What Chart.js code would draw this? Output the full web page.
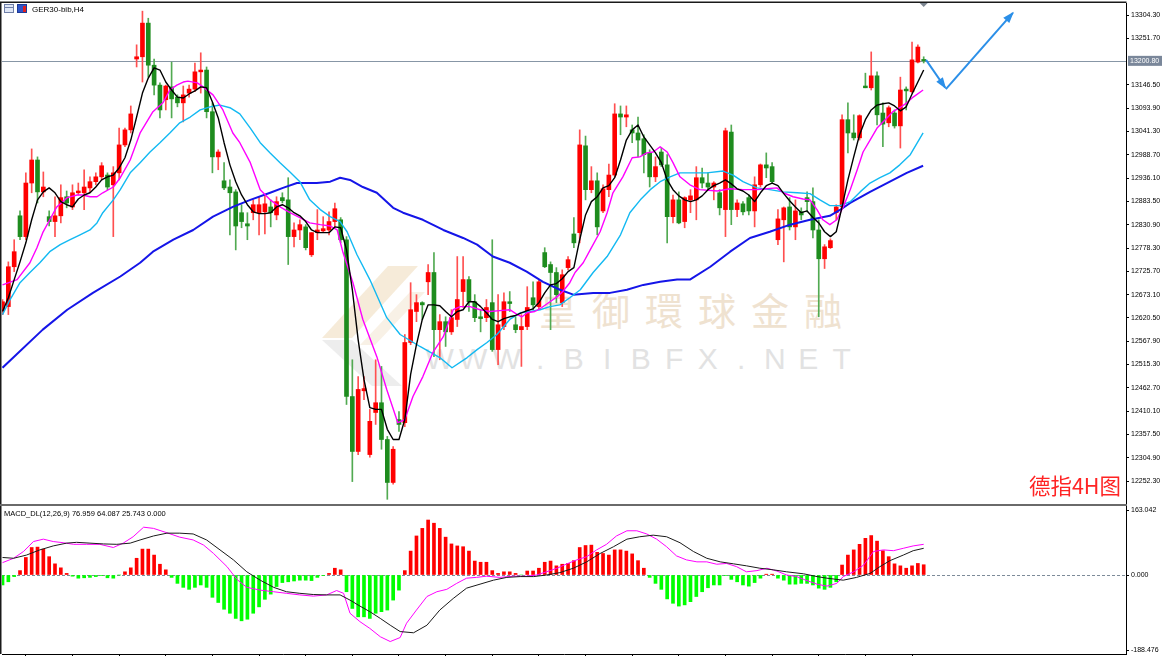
<!DOCTYPE html>
<html><head><meta charset="utf-8">
<script src="https://cdn.jsdelivr.net/npm/chart.js@4.4.1/dist/chart.umd.min.js"></script>
<style>
html,body{margin:0;padding:0;background:#fff;width:1170px;height:656px;overflow:hidden;position:relative}
canvas{position:absolute;left:0}
#c1{top:0;z-index:1}
#c2{top:505px;z-index:1}
.t{position:absolute;white-space:nowrap;z-index:2}
.wm{position:absolute;white-space:nowrap;z-index:0}
.www{position:absolute;left:423px;top:344px;display:flex;z-index:0;font:30px/30px 'Liberation Sans',Arial,sans-serif;color:#e2e2e2}
.www span{display:block;width:33.5px;text-align:center}
</style></head><body>
<div class="wm" style="left:539px;top:290px;font:38px/38px 'Noto Sans CJK TC','Noto Sans CJK SC',sans-serif;color:#efe2d0;letter-spacing:15px">皇御環球金融</div>
<div class="www"><span>W</span><span>W</span><span>W</span><span>.</span><span>B</span><span>I</span><span>B</span><span>F</span><span>X</span><span>.</span><span>N</span><span>E</span><span>T</span></div>
<canvas id="c1" width="1170" height="506"></canvas>
<canvas id="c2" width="1170" height="151"></canvas>
<div class="t" style="left:4px;top:4px;width:10px;height:9px;border:1px solid #6f7fa8;background:#dfe6f5;box-sizing:border-box"></div>
<div class="t" style="left:5px;top:7px;width:8px;height:1px;background:#6f7fa8"></div>
<div class="t" style="left:17px;top:4px;width:10px;height:9px;background:#2f55c8;box-sizing:border-box;border:1px solid #1d3a96"></div>
<div class="t" style="left:23px;top:6px;width:3px;height:6px;background:#e02020"></div>
<div class="t" style="left:32px;top:5px;font:8px/9px 'Liberation Sans',Arial,sans-serif;color:#000">GER30-bib,H4</div>
<div class="t" style="left:4px;top:509px;font:7.5px/9px 'Liberation Sans',Arial,sans-serif;color:#000">MACD_DL(12,26,9) 76.959 64.087 25.743 0.000</div>
<div class="t" style="right:49px;top:474px;font:21.5px/21.5px 'Noto Sans CJK SC',sans-serif;color:#ff2424">德指4H图</div>
<script>
// ---------- DATA ----------
const openPrices = [12637,12646,12736,12851,12804,12925,12977,12905,12849,12838,
12851,12894,12871,12903,12903,12914,12928,12939,12943,12921,
12948,13011,13045,13205,13210,13286,13191,13146,13113,13142,
13119,13106,13128,13137,13176,13180,13086,12984,12930,12916,
12905,12858,12833,12858,12858,12860,12871,12853,12892,12887,
12804,12819,12826,12763,12813,12817,12819,12838,12842,12797,
12443,12319,12456,12312,12407,12429,12346,12249,12391,12384,
12565,12635,12655,12702,12723,12594,12612,12589,12617,12680,
12707,12657,12623,12621,12655,12549,12601,12657,12605,12594,
12601,12666,12646,12768,12741,12723,12655,12734,12810,12813,
13009,12910,12930,12862,12910,12943,13081,13074,13045,13038,
13025,12993,12939,12995,12966,12849,12887,12838,12887,12887,
12937,12925,12916,12903,12865,13040,12865,12878,12892,12862,
12921,12966,12962,12797,12842,12871,12826,12860,12892,12883,
12819,12754,12779,12858,12871,13068,13038,13027,13144,13140,
13167,13083,13061,13083,13054,13137,13131,13198,13204];
const highPrices = [12662,12747,12797,12862,12948,13002,12984,12950,12862,12894,
12921,12907,12921,12925,12955,12939,12948,12971,12948,12962,
13049,13049,13099,13237,13313,13297,13205,13151,13146,13198,
13124,13144,13146,13196,13219,13187,13106,13000,12971,12932,
12910,12876,12858,12887,12894,12896,12887,12894,12903,12937,
12835,12842,12831,12813,12865,12849,12860,12880,12847,12804,
12526,12488,12488,12414,12526,12511,12353,12330,12409,12583,
12700,12673,12657,12741,12768,12628,12623,12639,12759,12759,
12714,12673,12639,12662,12797,12673,12677,12680,12623,12628,
12691,12702,12707,12779,12747,12734,12729,12759,12847,13045,
13031,12962,12948,12921,12968,13104,13099,13099,13056,13074,
13034,13000,12984,13004,12989,12898,12905,12894,12910,12962,
12959,12948,12928,12910,13049,13056,12887,12883,12898,12939,
12968,12993,12971,12865,12871,12892,12887,12869,12905,12914,
12842,12786,12799,12876,13079,13106,13079,13079,13173,13221,
13176,13106,13099,13090,13164,13142,13243,13237,13210];
const lowPrices = [12628,12628,12725,12797,12797,12903,12880,12894,12828,12804,
12835,12869,12865,12898,12865,12903,12921,12932,12910,12804,
12932,13007,13038,13187,13153,13164,13124,13072,13090,13072,
13097,13063,13119,13131,13128,13072,12948,12955,12910,12808,
12774,12824,12797,12842,12808,12810,12826,12842,12880,12741,
12781,12797,12774,12759,12797,12813,12808,12826,12790,12425,
12251,12312,12436,12306,12380,12324,12211,12245,12364,12375,
12560,12612,12617,12673,12533,12526,12556,12583,12601,12644,
12635,12612,12589,12612,12545,12515,12594,12635,12587,12511,
12594,12639,12639,12734,12594,12655,12646,12729,12779,12790,
12887,12903,12808,12858,12894,12939,13034,13052,13016,12984,
12948,12916,12928,12962,12790,12835,12833,12824,12858,12842,
12914,12910,12887,12853,12804,12831,12849,12853,12853,12826,
12916,12937,12925,12786,12747,12819,12797,12842,12860,12801,
12623,12732,12777,12842,12869,12993,13022,13022,13140,13135,
13056,13007,13052,13049,13004,13090,13128,13196,13196];
const closePrices = [12657,12736,12770,12804,12925,12977,12905,12916,12838,12851,
12892,12880,12903,12907,12916,12928,12939,12964,12916,12948,
13011,13045,13081,13210,13286,13191,13146,13090,13144,13115,
13106,13124,13137,13176,13180,13086,12984,12995,12914,12903,
12828,12838,12828,12876,12876,12878,12858,12883,12885,12804,
12819,12831,12779,12813,12819,12822,12838,12867,12797,12443,
12319,12459,12461,12387,12429,12346,12249,12324,12380,12565,
12639,12655,12650,12723,12594,12612,12589,12621,12662,12707,
12657,12621,12619,12644,12549,12605,12657,12653,12594,12601,
12644,12650,12702,12736,12723,12673,12718,12752,12790,13011,
12910,12930,12826,12912,12943,13081,13074,13079,13038,13022,
12989,12939,12962,12966,12849,12887,12835,12892,12896,12937,
12925,12916,12925,12869,13043,12865,12880,12860,12862,12921,
12966,12959,12928,12844,12869,12826,12862,12853,12883,12819,
12754,12781,12795,12871,13068,13038,13027,13077,13140,13167,
13079,13058,13095,13054,13135,13133,13203,13232,13200.8];

// fast moving average (black), one value per candle
const maFast = [12635,12666,12707,12747,12790,12842,12887,12905,12914,12903,
12883,12876,12871,12889,12898,12903,12916,12932,12939,12943,
12959,12982,13022,13074,13128,13162,13185,13180,13153,13135,
13119,13117,13126,13133,13142,13140,13108,13072,13016,12966,
12928,12898,12876,12860,12856,12856,12858,12871,12876,12869,
12858,12851,12838,12819,12813,12813,12813,12826,12824,12774,
12684,12571,12481,12418,12414,12414,12369,12346,12346,12391,
12493,12560,12617,12650,12650,12648,12635,12623,12635,12639,
12657,12657,12646,12632,12617,12612,12619,12623,12626,12632,
12637,12641,12655,12677,12695,12698,12709,12725,12734,12797,
12853,12883,12894,12914,12919,12937,12977,13022,13045,13056,
13029,13011,12993,12971,12932,12910,12896,12887,12883,12887,
12896,12910,12919,12925,12932,12923,12912,12907,12898,12883,
12903,12919,12925,12919,12901,12885,12871,12858,12862,12847,
12835,12815,12804,12815,12871,12932,12984,13034,13068,13090,
13101,13104,13106,13099,13088,13097,13126,13153,13180];

// [candle position, price] samples of the other averages
const maMidPts = [[0,12695],[2.5,12707],[4.7,12745],[5.9,12779],[6.9,12813],[8.1,12842],[9.3,12871],[11.1,12892],[12.8,12898],[13.8,12898],[15.0,12894],[16.2,12894],[17.2,12903],[19.0,12916],[20.2,12937],[21.9,12977],[23.6,13038],[25.8,13086],[27.5,13106],[28.7,13135],[29.9,13146],[31.0,13153],[31.8,13155],[33.4,13151],[34.4,13142],[36.1,13124],[37.8,13090],[39.5,13038],[40.7,13016],[42.5,12971],[44.2,12910],[45.9,12887],[47.6,12871],[49.3,12858],[51.0,12847],[52.7,12835],[54.5,12831],[56.2,12828],[57.4,12819],[58.4,12768],[60.1,12700],[61.8,12617],[64.2,12533],[65.9,12459],[67.8,12384],[69.0,12391],[70.4,12443],[72.1,12488],[73.8,12542],[75.6,12578],[77.3,12639],[78.5,12646],[80.2,12646],[81.9,12639],[83.6,12635],[85.3,12637],[87.0,12639],[88.3,12628],[89.1,12623],[90.0,12632],[91.3,12635],[92.5,12644],[93.9,12657],[95.1,12668],[96.1,12680],[97.3,12700],[98.2,12723],[99.6,12745],[100.8,12774],[102.5,12815],[103.7,12858],[104.7,12903],[106.4,12939],[108.0,12982],[109.3,12984],[110.5,12993],[111.6,12995],[112.8,13007],[114.0,12995],[115.0,12971],[116.2,12939],[117.9,12921],[119.6,12910],[122.6,12907],[124.8,12912],[127.0,12910],[129.4,12910],[131.1,12912],[132.8,12914],[133.9,12903],[135.6,12894],[137.3,12889],[138.5,12887],[139.7,12865],[140.7,12842],[141.9,12831],[143.1,12842],[144.2,12871],[145.4,12910],[146.6,12955],[147.6,12995],[148.8,13022],[150.0,13049],[151.7,13072],[152.7,13086],[153.9,13095],[155.1,13106],[156.2,13119],[157.9,13135]];
const maSlowPts = [[0,12628],[1.3,12662],[3.0,12700],[4.7,12723],[6.4,12745],[8.1,12770],[9.9,12786],[11.6,12797],[13.3,12808],[15.0,12819],[16.2,12835],[17.2,12858],[19.0,12887],[20.2,12910],[21.9,12948],[23.6,12971],[25.3,12995],[27.0,13016],[28.7,13038],[30.4,13061],[32.2,13074],[33.9,13090],[35.6,13097],[37.3,13101],[39.0,13095],[40.7,13081],[42.5,13049],[44.2,13016],[45.9,12993],[47.6,12971],[49.3,12950],[51.0,12928],[52.7,12887],[54.5,12865],[56.2,12849],[57.9,12838],[59.1,12815],[60.8,12763],[63.0,12707],[65.9,12621],[68.2,12583],[71.6,12556],[75.0,12531],[77.1,12508],[79.7,12531],[81.4,12549],[83.1,12565],[84.8,12583],[87.0,12617],[88.8,12632],[90.5,12635],[92.2,12639],[93.9,12646],[95.6,12650],[97.3,12666],[99.1,12684],[101.3,12723],[103.7,12759],[106.0,12808],[107.6,12858],[109.4,12887],[111.1,12910],[112.8,12928],[114.5,12939],[116.2,12948],[117.9,12948],[120.8,12948],[123.6,12952],[125.3,12943],[127.0,12928],[129.4,12914],[131.6,12910],[133.9,12905],[136.3,12903],[138.5,12901],[140.2,12887],[141.9,12874],[143.7,12874],[145.4,12883],[147.1,12905],[148.8,12925],[150.5,12937],[152.2,12948],[153.9,12966],[155.7,12989],[157.9,13038]];
const maLongPts = [[0,12508],[6.9,12594],[11.1,12639],[15.5,12677],[20.2,12714],[23.6,12745],[25.8,12770],[29.3,12797],[32.7,12819],[36.1,12849],[39.5,12871],[42.5,12887],[45.9,12903],[48.1,12914],[50.5,12925],[53.9,12925],[56.2,12928],[57.9,12937],[59.6,12932],[61.8,12916],[64.2,12903],[67.0,12869],[68.7,12858],[72.1,12842],[75.6,12819],[79.0,12801],[81.4,12786],[84.1,12759],[87.0,12745],[89.9,12725],[92.7,12702],[95.6,12684],[97.9,12673],[101.3,12677],[104.2,12677],[107.1,12684],[109.9,12695],[112.8,12702],[115.7,12707],[117.9,12707],[121.4,12736],[124.8,12770],[128.2,12801],[131.6,12815],[135.1,12831],[138.5,12842],[141.9,12851],[143.7,12865],[145.4,12880],[148.8,12905],[152.2,12928],[155.1,12948],[157.9,12964]];

// projected path arrows [candle position, price]
const arrowDownPts = [[158.4,13203],[161.7,13140]];
const arrowUpPts = [[161.8,13137],[173.3,13309]];

// MACD pane
const macdHist = [-25,-17,-4,11,44,69,70,65,46,28,
18,4,-3,-8,-7,-6,-4,-1,-7,-8,
0,8,18,42,65,65,50,27,13,-6,
-21,-31,-36,-31,-25,-31,-56,-69,-86,-96,
-109,-115,-111,-96,-80,-61,-48,-29,-19,-17,
-15,-13,-13,-14,-6,-1,4,17,13,-42,
-84,-105,-105,-109,-96,-92,-88,-63,-38,11,
60,98,117,138,130,117,95,78,73,71,
60,35,32,32,11,4,8,8,4,0,
10,10,17,32,35,23,27,29,36,69,
74,75,57,54,50,63,63,60,53,36,
17,-6,-21,-36,-60,-71,-78,-75,-67,-54,
-42,-32,-25,-25,-1,-11,-17,-25,-28,-19,
-8,2,2,-8,-13,-23,-23,-21,-21,-25,
-33,-36,-31,-17,25,50,63,77,92,99,
85,61,46,28,23,17,23,29,25.743];
const macdMainPts = [[0,31],[1.9,42],[3.6,59],[5.3,84],[7.0,90],[8.7,84],[10.4,81],[12.2,77],[14.4,77],[16.7,77],[19.0,69],[20.7,80],[22.4,96],[24.2,120],[25.9,117],[28.2,106],[30.4,95],[32.7,88],[34.5,75],[36.2,54],[38.5,21],[40.2,-11],[41.9,-31],[44.2,-38],[46.5,-42],[48.7,-46],[51.0,-50],[53.3,-53],[55.6,-50],[57.3,-39],[58.5,-46],[59.6,-96],[61.3,-117],[63.0,-134],[64.8,-155],[66.5,-167],[68.2,-157],[69.3,-121],[71.0,-88],[72.8,-54],[74.5,-42],[76.2,-36],[77.9,-21],[79.6,-8],[81.3,-6],[83.0,-3],[85.3,-6],[87.6,-3],[89.9,-3],[91.6,0],[93.3,8],[95.1,17],[96.8,28],[98.5,38],[100.2,46],[101.9,63],[103.6,77],[105.3,98],[107.1,111],[108.8,111],[110.5,103],[112.2,90],[113.9,71],[115.6,48],[117.3,38],[119.1,33],[120.8,33],[122.5,27],[124.2,29],[125.9,21],[127.6,8],[129.4,11],[131.1,17],[132.8,10],[134.5,0],[136.2,-4],[137.4,-11],[139.7,-23],[141.4,-28],[143.1,-21],[144.2,-4],[146.0,8],[147.7,25],[149.4,59],[151.1,63],[152.8,61],[154.5,67],[156.2,73],[158,77]];
const macdSignalPts = [[0,44],[1.9,42],[4.1,50],[6.4,63],[8.7,73],[11.0,80],[12.7,82],[15.0,80],[17.3,78],[19.6,77],[21.9,80],[23.6,88],[25.9,98],[28.2,105],[30.4,105],[32.7,103],[35.0,88],[37.3,63],[39.6,38],[41.9,8],[44.2,-13],[46.5,-31],[48.7,-42],[51.0,-46],[53.3,-49],[55.6,-50],[57.9,-50],[59.6,-63],[61.3,-78],[63.0,-92],[64.8,-109],[66.5,-126],[68.2,-142],[70.5,-145],[72.8,-126],[75.0,-88],[77.3,-59],[79.6,-33],[81.9,-23],[84.2,-13],[86.5,-6],[88.8,-4],[91.1,-4],[93.3,0],[95.6,6],[97.9,17],[100.2,33],[102.5,54],[104.8,71],[107.1,90],[109.3,96],[111.6,100],[113.9,96],[116.2,81],[118.5,59],[120.8,42],[123.1,33],[125.4,28],[127.6,23],[129.9,17],[132.2,13],[134.5,8],[137.4,3],[139.7,-4],[141.4,-8],[144.2,-13],[146.5,-6],[148.8,4],[150.5,21],[152.2,36],[154.5,50],[156.2,61],[158,67]];

// axis tick labels
const priceTicks = [13304.3,13251.7,13146.5,13093.9,13041.3,12988.7,12936.1,12883.5,12830.9,12778.3,12725.7,12673.1,12620.5,12567.9,12515.3,12462.7,12410.1,12357.5,12304.9,12252.3];
const macdTicks = [163.042, 0, -188.476];
const timeTicks = [8,16,24,32,40,48,56,64,72,80,88,96,104,112,120,128,136,144,152];

// ---------- CHARTS ----------
Chart.defaults.font.family = "'Liberation Sans', Arial, sans-serif";
Chart.defaults.animation = false;
const N = closePrices.length;
const barIdx = closePrices.map((_, i) => i);
const isUp = barIdx.map(i => closePrices[i] > openPrices[i]);
const toXY = a => a.map(p => ({x: p[0], y: p[1]}));
const X_MIN = -0.09, X_MAX = 192.7;
const Y_MAX = 13331.4, Y_MIN = 12200.4;
const M_MAX = 173.19, M_MIN = -198.29;
const ARROW = '#2b8fe8';
const axisFont = {family: "'Liberation Sans', Arial, sans-serif", size: 7};

function head(ctx, p1, p2, color) {
  const a = Math.atan2(p2.y - p1.y, p2.x - p1.x), L = 10, W = 4;
  ctx.fillStyle = color;
  ctx.beginPath();
  ctx.moveTo(p2.x + 1.5 * Math.cos(a), p2.y + 1.5 * Math.sin(a));
  ctx.lineTo(p2.x - L * Math.cos(a) + W * Math.sin(a), p2.y - L * Math.sin(a) - W * Math.cos(a));
  ctx.lineTo(p2.x - L * Math.cos(a) - W * Math.sin(a), p2.y - L * Math.sin(a) + W * Math.cos(a));
  ctx.closePath(); ctx.fill();
}

const mainPlugin = {
  id: 'mainDecor',
  beforeDatasetsDraw(chart) {
    const {ctx, chartArea: a, scales: {y}} = chart;
    ctx.save();
    ctx.fillStyle = 'rgba(238,218,186,0.55)';
    ctx.beginPath(); ctx.moveTo(388,266); ctx.lineTo(418,266); ctx.lineTo(352,338); ctx.lineTo(322,338); ctx.closePath(); ctx.fill();
    ctx.fillStyle = 'rgba(240,224,200,0.45)';
    ctx.beginPath(); ctx.moveTo(410,292); ctx.lineTo(425,292); ctx.lineTo(375,345); ctx.lineTo(360,345); ctx.closePath(); ctx.fill();
    ctx.fillStyle = 'rgba(222,222,222,0.55)';
    ctx.beginPath(); ctx.moveTo(322,340); ctx.lineTo(352,340); ctx.lineTo(402,386); ctx.lineTo(372,386); ctx.closePath(); ctx.fill();
    const py = Math.round(y.getPixelForValue(closePrices[N - 1])) + 0.5;
    ctx.strokeStyle = '#8796a6'; ctx.lineWidth = 1;
    ctx.beginPath(); ctx.moveTo(a.left, py); ctx.lineTo(a.right, py); ctx.stroke();
    ctx.restore();
  },
  afterDatasetsDraw(chart) {
    const ctx = chart.ctx;
    ctx.save();
    [4, 5].forEach(di => {
      const pts = chart.getDatasetMeta(di).data;
      head(ctx, pts[pts.length - 2], pts[pts.length - 1], ARROW);
    });
    ctx.restore();
  },
  afterDraw(chart) {
    const {ctx, chartArea: a, scales: {x, y}} = chart;
    ctx.save();
    ctx.strokeStyle = '#1a1a1a'; ctx.lineWidth = 1.5;
    ctx.beginPath(); ctx.moveTo(0.75, a.bottom); ctx.lineTo(0.75, 2.25); ctx.lineTo(a.right + 0.5, 2.25); ctx.stroke();
    ctx.fillStyle = '#6a6a6a'; ctx.fillRect(0, a.bottom, a.right + 1, 2);
    const mx = x.getPixelForValue(N - 1);
    ctx.fillStyle = '#7b8590';
    ctx.beginPath(); ctx.moveTo(mx - 4, 3); ctx.lineTo(mx + 4, 3); ctx.lineTo(mx, 7); ctx.closePath(); ctx.fill();
    const last = closePrices[N - 1];
    const py = y.getPixelForValue(last);
    ctx.fillStyle = '#7a879a'; ctx.fillRect(a.right + 2, py - 5, 34, 10);
    ctx.fillStyle = '#fff'; ctx.font = "7px 'Liberation Sans', Arial, sans-serif";
    ctx.textBaseline = 'middle'; ctx.textAlign = 'left';
    ctx.fillText(last.toFixed(2), a.right + 4, py + 0.5);
    ctx.restore();
  }
};

const lineDs = (data, color, width, order) => ({type: 'line', data, borderColor: color, borderWidth: width, pointRadius: 0, tension: 0, order, borderJoinStyle: 'round', fill: false});

new Chart(document.getElementById('c1'), {
  type: 'bar',
  data: {datasets: [
    lineDs(barIdx.map(i => ({x: i, y: maFast[i]})), '#000000', 1.4, 1),
    lineDs(toXY(maMidPts), '#ff00ff', 1.4, 1),
    lineDs(toXY(maSlowPts), '#12b9f2', 1.4, 1),
    lineDs(toXY(maLongPts), '#1515e8', 2, 1),
    lineDs(toXY(arrowDownPts), ARROW, 2, 0),
    lineDs(toXY(arrowUpPts), ARROW, 2, 0),
    {type: 'bar', data: barIdx.map(i => ({x: i, y: [lowPrices[i], highPrices[i]]})),
     backgroundColor: barIdx.map(i => isUp[i] ? '#ff5050' : '#52aa52'),
     barThickness: 1, maxBarThickness: 1, grouped: false, borderWidth: 0, order: 5},
    {type: 'bar', data: barIdx.map(i => ({x: i, y: [openPrices[i], closePrices[i]]})),
     backgroundColor: barIdx.map(i => isUp[i] ? '#ff0000' : '#1e8c1e'),
     barThickness: 4, maxBarThickness: 4, minBarLength: 1, grouped: false, borderWidth: 0, order: 4}
  ]},
  options: {
    responsive: false, devicePixelRatio: 1, animation: false, events: [],
    layout: {padding: {left: 2, right: 0, top: 3, bottom: 2}, autoPadding: false},
    plugins: {legend: {display: false}, tooltip: {enabled: false}},
    scales: {
      x: {type: 'linear', min: X_MIN, max: X_MAX, offset: false, display: false},
      y: {position: 'right', min: Y_MIN, max: Y_MAX,
        afterBuildTicks: s => { s.ticks = priceTicks.map(v => ({value: v})); },
        afterFit: s => { s.width = 44; s.paddingTop = 0; s.paddingBottom = 0; },
        ticks: {autoSkip: false, font: axisFont, color: '#000', padding: 2, callback: v => Number(v).toFixed(2)},
        grid: {drawOnChartArea: false, drawTicks: true, tickLength: 3, tickColor: '#000', color: '#000'},
        border: {display: true, color: '#000', width: 1}}
    }
  },
  plugins: [mainPlugin]
});

const macdPlugin = {
  id: 'macdDecor',
  afterDraw(chart) {
    const {ctx, chartArea: a} = chart;
    ctx.save();
    ctx.strokeStyle = '#1a1a1a'; ctx.lineWidth = 1.5;
    ctx.beginPath(); ctx.moveTo(0.75, a.bottom); ctx.lineTo(0.75, 0); ctx.stroke();
    ctx.fillStyle = '#6a6a6a'; ctx.fillRect(0, 0, a.right + 1, 1);
    ctx.restore();
  }
};

new Chart(document.getElementById('c2'), {
  type: 'bar',
  data: {datasets: [
    {type: 'bar', data: barIdx.map(i => ({x: i, y: macdHist[i]})),
     backgroundColor: macdHist.map(v => v > 0 ? '#ff0000' : '#00ff00'),
     barThickness: 3, maxBarThickness: 3, grouped: false, borderWidth: 0, order: 3},
    lineDs(toXY(macdSignalPts), '#1a1a1a', 1, 1),
    lineDs(toXY(macdMainPts), '#ff00ff', 1, 1)
  ]},
  options: {
    responsive: false, devicePixelRatio: 1, animation: false, events: [],
    layout: {padding: {left: 2, right: 0, top: 1, bottom: 0}, autoPadding: false},
    plugins: {legend: {display: false}, tooltip: {enabled: false}},
    scales: {
      x: {type: 'linear', min: X_MIN, max: X_MAX, offset: false, position: 'bottom',
        afterBuildTicks: s => { s.ticks = timeTicks.map(v => ({value: v})); },
        afterFit: s => { s.height = 2; s.paddingLeft = 0; s.paddingRight = 0; },
        ticks: {display: false},
        grid: {drawOnChartArea: false, drawTicks: true, tickLength: 2, tickColor: '#000'},
        border: {display: true, color: '#000', width: 1}},
      y: {position: 'right', min: M_MIN, max: M_MAX,
        afterBuildTicks: s => { s.ticks = macdTicks.map(v => ({value: v})); },
        afterFit: s => { s.width = 44; s.paddingTop = 0; s.paddingBottom = 0; },
        ticks: {autoSkip: false, font: axisFont, color: '#000', padding: 2, callback: v => Number(v).toFixed(3)},
        grid: {drawOnChartArea: true, drawTicks: true, tickLength: 3, tickColor: '#000', lineWidth: 1,
          color: c => (c.tick && c.tick.value === 0) ? '#7d8b99' : 'rgba(0,0,0,0)'},
        border: {display: true, color: '#000', width: 1, dash: [3, 2]}}
    }
  },
  plugins: [macdPlugin]
});
</script>
</body></html>
